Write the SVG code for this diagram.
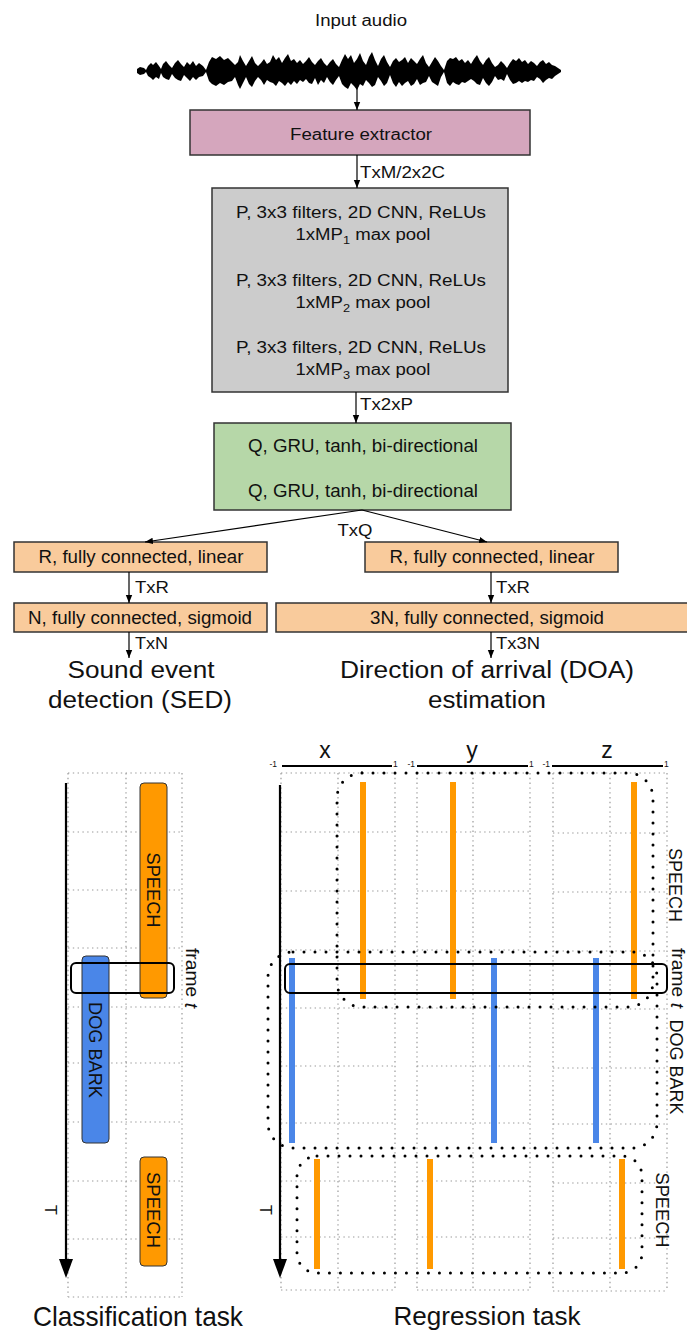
<svg xmlns="http://www.w3.org/2000/svg" width="687" height="1333" viewBox="0 0 687 1333">
  <defs>
    <marker id="arr" viewBox="0 0 10 10" refX="10" refY="5" markerWidth="8" markerHeight="8" markerUnits="userSpaceOnUse" orient="auto">
      <path d="M0,1 L10,5 L0,9 z" fill="#000"/>
    </marker>
    <style>
      text { font-family: "Liberation Sans", Arial, sans-serif; fill: #111; }
      .t16 { font-size: 16px; }
      .t17 { font-size: 17.5px; }
      .big { font-size: 23px; }
      .cap { font-size: 28px; }
      .box { stroke: #333; stroke-width: 1.5; }
      .conn { stroke: #000; stroke-width: 1.2; fill: none; marker-end: url(#arr); }
      .grid { stroke: #999; stroke-width: 1.2; stroke-dasharray: 1.4 3.4; fill: none; }
      .dots { stroke: #000; stroke-width: 3; stroke-dasharray: 0 11; stroke-linecap: round; fill: none; }
      .frame { stroke: #000; stroke-width: 2; fill: none; }
      .vlab { font-size: 19px; }
      .orange { stroke: #ff9900; stroke-width: 6; }
      .blue { stroke: #4a86e8; stroke-width: 6; }
      .axis { stroke: #000; stroke-width: 2.2; }
    </style>
  </defs>

  <!-- input waveform -->
  <g id="input">
    <text class="t16" x="361" y="26" text-anchor="middle" textLength="92" lengthAdjust="spacingAndGlyphs">Input audio</text>
    <path fill="#000" d="M137,69 L140,67 L144,68 L146,70 L148,66 L151,63 L153,65 L156,62 L159,66 L161,69 L163,64 L166,61 L169,65 L172,68 L175,63 L178,60 L181,64 L184,67 L187,62 L190,65 L193,61 L196,66 L199,63 L203,66 L206,70 L209,62 L212,57 L216,59 L220,56 L224,60 L228,58 L232,62 L235,65 L238,62 L240,55 L243,61 L246,66 L249,61 L252,56 L255,63 L258,66 L261,63 L264,59 L267,64 L270,62 L273,55 L276,60 L279,57 L282,63 L285,58 L288,54 L291,61 L294,59 L297,63 L300,60 L303,64 L306,61 L309,57 L312,62 L315,65 L318,61 L321,58 L324,63 L327,66 L330,62 L333,59 L336,64 L339,67 L342,60 L345,54 L348,59 L351,55 L354,63 L357,59 L360,53 L363,61 L366,65 L369,57 L372,52 L375,60 L378,66 L381,59 L384,55 L387,62 L390,67 L393,61 L396,58 L399,62 L402,60 L405,57 L408,63 L411,58 L414,61 L417,64 L420,59 L423,55 L426,63 L429,67 L432,62 L435,57 L438,61 L441,66 L444,70 L447,61 L450,58 L453,59 L456,57 L459,61 L462,59 L465,63 L468,60 L471,64 L474,59 L477,55 L480,61 L483,65 L486,60 L489,57 L492,63 L495,67 L498,65 L501,61 L504,64 L507,68 L510,63 L513,59 L516,61 L519,58 L522,62 L525,60 L528,64 L531,61 L534,63 L537,66 L540,62 L543,60 L546,64 L549,62 L552,65 L555,66 L558,68 L561,70 L561,72 L558,74 L555,76 L552,79 L549,78 L546,80 L543,83 L540,79 L537,77 L534,81 L531,80 L528,82 L525,81 L522,83 L519,81 L516,83 L513,84 L510,80 L507,74 L504,81 L501,79 L498,80 L495,76 L492,82 L489,86 L486,83 L483,78 L480,85 L477,84 L474,81 L471,79 L468,81 L465,83 L462,82 L459,85 L456,84 L453,82 L450,86 L447,83 L444,72 L441,77 L438,86 L435,84 L432,82 L429,76 L426,82 L423,83 L420,85 L417,79 L414,84 L411,86 L408,81 L405,83 L402,86 L399,82 L396,87 L393,83 L390,75 L387,83 L384,86 L381,81 L378,77 L375,85 L372,87 L369,83 L366,80 L363,86 L360,84 L357,90 L354,86 L351,83 L348,89 L345,87 L342,84 L339,76 L336,80 L333,85 L330,82 L327,77 L324,83 L321,80 L318,85 L315,78 L312,84 L309,83 L306,79 L303,82 L300,80 L297,84 L294,81 L291,85 L288,82 L285,86 L282,83 L279,81 L276,86 L273,83 L270,82 L267,80 L264,85 L261,80 L258,77 L255,81 L252,87 L249,84 L246,77 L243,83 L240,89 L238,85 L235,77 L232,81 L228,82 L224,85 L220,83 L216,86 L212,84 L209,81 L206,72 L203,76 L199,77 L196,80 L193,77 L190,81 L187,78 L184,75 L181,81 L178,80 L175,78 L172,74 L169,80 L166,79 L163,77 L161,73 L159,79 L156,77 L153,80 L151,78 L148,76 L146,72 L144,74 L140,75 L137,73 Z"/>
  </g>

  <g id="feature-extractor">
    <rect class="box" x="190" y="110" width="340" height="45" fill="#d5a6bd"/>
    <text class="t16" x="361" y="140" text-anchor="middle" textLength="142" lengthAdjust="spacingAndGlyphs">Feature extractor</text>
  </g>

  <g id="cnn">
    <rect class="box" x="212" y="188" width="296" height="204" fill="#cccccc"/>
    <text class="t16" x="361" y="218" text-anchor="middle" textLength="250" lengthAdjust="spacingAndGlyphs">P, 3x3 filters, 2D CNN, ReLUs</text>
    <text class="t16" x="363" y="240" text-anchor="middle" textLength="135" lengthAdjust="spacingAndGlyphs">1xMP<tspan font-size="11" dy="4">1</tspan><tspan dy="-4"> max pool</tspan></text>
    <text class="t16" x="361" y="286" text-anchor="middle" textLength="250" lengthAdjust="spacingAndGlyphs">P, 3x3 filters, 2D CNN, ReLUs</text>
    <text class="t16" x="363" y="308" text-anchor="middle" textLength="135" lengthAdjust="spacingAndGlyphs">1xMP<tspan font-size="11" dy="4">2</tspan><tspan dy="-4"> max pool</tspan></text>
    <text class="t16" x="361" y="353" text-anchor="middle" textLength="250" lengthAdjust="spacingAndGlyphs">P, 3x3 filters, 2D CNN, ReLUs</text>
    <text class="t16" x="363" y="375" text-anchor="middle" textLength="135" lengthAdjust="spacingAndGlyphs">1xMP<tspan font-size="11" dy="4">3</tspan><tspan dy="-4"> max pool</tspan></text>
  </g>

  <g id="gru">
    <rect class="box" x="214" y="423" width="297" height="87" fill="#b6d7a8"/>
    <text class="t17" x="363" y="452" text-anchor="middle" textLength="230" lengthAdjust="spacingAndGlyphs">Q, GRU, tanh, bi-directional</text>
    <text class="t17" x="363" y="497" text-anchor="middle" textLength="230" lengthAdjust="spacingAndGlyphs">Q, GRU, tanh, bi-directional</text>
  </g>

  <g id="sed-fc1">
    <rect class="box" x="14" y="542" width="253" height="30" fill="#f9cb9c"/>
    <text class="t17" x="141" y="563" text-anchor="middle" textLength="205" lengthAdjust="spacingAndGlyphs">R, fully connected, linear</text>
  </g>
  <g id="doa-fc1">
    <rect class="box" x="365" y="542" width="253" height="30" fill="#f9cb9c"/>
    <text class="t17" x="492" y="563" text-anchor="middle" textLength="205" lengthAdjust="spacingAndGlyphs">R, fully connected, linear</text>
  </g>
  <g id="sed-fc2">
    <rect class="box" x="14" y="603" width="253" height="29" fill="#f9cb9c"/>
    <text class="t17" x="140" y="624" text-anchor="middle" textLength="224" lengthAdjust="spacingAndGlyphs">N, fully connected, sigmoid</text>
  </g>
  <g id="doa-fc2">
    <rect class="box" x="276" y="603" width="430" height="29" fill="#f9cb9c"/>
    <text class="t17" x="487" y="624" text-anchor="middle" textLength="234" lengthAdjust="spacingAndGlyphs">3N, fully connected, sigmoid</text>
  </g>

  <g id="sed-output">
    <text class="big" x="141" y="678" text-anchor="middle" textLength="147" lengthAdjust="spacingAndGlyphs">Sound event</text>
    <text class="big" x="140" y="708" text-anchor="middle" textLength="184" lengthAdjust="spacingAndGlyphs">detection (SED)</text>
  </g>
  <g id="doa-output">
    <text class="big" x="487" y="678" text-anchor="middle" textLength="294" lengthAdjust="spacingAndGlyphs">Direction of arrival (DOA)</text>
    <text class="big" x="487" y="708" text-anchor="middle" textLength="118" lengthAdjust="spacingAndGlyphs">estimation</text>
  </g>

  <!-- connectors and tensor shapes -->
  <g id="connectors">
    <line class="conn" x1="357" y1="88" x2="357" y2="110"/>
    <line class="conn" x1="357" y1="155" x2="357" y2="188"/>
    <text class="t16" x="360" y="178" textLength="85" lengthAdjust="spacingAndGlyphs">TxM/2x2C</text>
    <line class="conn" x1="356" y1="392" x2="356" y2="423"/>
    <text class="t16" x="360" y="410" textLength="53" lengthAdjust="spacingAndGlyphs">Tx2xP</text>
    <line class="conn" x1="362" y1="510" x2="145" y2="542"/>
    <line class="conn" x1="362" y1="510" x2="487" y2="542"/>
    <text class="t16" x="355" y="536" text-anchor="middle" textLength="35" lengthAdjust="spacingAndGlyphs">TxQ</text>
    <line class="conn" x1="129" y1="572" x2="129" y2="603"/>
    <text class="t16" x="135" y="593" textLength="34" lengthAdjust="spacingAndGlyphs">TxR</text>
    <line class="conn" x1="491" y1="572" x2="491" y2="603"/>
    <text class="t16" x="496" y="593" textLength="34" lengthAdjust="spacingAndGlyphs">TxR</text>
    <line class="conn" x1="129" y1="632" x2="129" y2="658"/>
    <text class="t16" x="135" y="649" textLength="33" lengthAdjust="spacingAndGlyphs">TxN</text>
    <line class="conn" x1="491" y1="632" x2="491" y2="658"/>
    <text class="t16" x="496" y="649" textLength="44" lengthAdjust="spacingAndGlyphs">Tx3N</text>
  </g>

  <!-- classification task -->
  <g id="classification">
    <path class="grid" d="M68,773 V1297 M126,773 V1297 M182,773 V1297 M68,773 H182 M68,832 H182 M68,890 H182 M68,948 H182 M68,1007 H182 M68,1063 H182 M68,1122 H182 M68,1181 H182 M68,1239 H182 M68,1297 H182"/>
    <line class="axis" x1="66" y1="783" x2="66" y2="1262"/>
    <polygon points="59,1259 73,1259 66,1278" fill="#000"/>
    <text class="t16" transform="translate(50,1210) rotate(90)" text-anchor="middle" dominant-baseline="central">T</text>
    <rect x="140" y="783" width="27" height="215" rx="4" fill="#ff9900" stroke="#333" stroke-width="1"/>
    <text class="vlab" transform="translate(153.5,890) rotate(90)" text-anchor="middle" dominant-baseline="central" textLength="75" lengthAdjust="spacingAndGlyphs">SPEECH</text>
    <rect x="82" y="956" width="27" height="187" rx="4" fill="#4a86e8" stroke="#333" stroke-width="1"/>
    <text class="vlab" transform="translate(95.5,1050) rotate(90)" text-anchor="middle" dominant-baseline="central" textLength="96" lengthAdjust="spacingAndGlyphs">DOG BARK</text>
    <rect x="140" y="1157" width="27" height="109" rx="4" fill="#ff9900" stroke="#333" stroke-width="1"/>
    <text class="vlab" transform="translate(153.5,1210) rotate(90)" text-anchor="middle" dominant-baseline="central" textLength="76" lengthAdjust="spacingAndGlyphs">SPEECH</text>
    <rect class="frame" x="71" y="963" width="103" height="30" rx="5"/>
    <text class="vlab" transform="translate(192,978) rotate(90)" text-anchor="middle" dominant-baseline="central" textLength="60" lengthAdjust="spacingAndGlyphs">frame <tspan font-style="italic">t</tspan></text>
    <text class="cap" x="138" y="1326" text-anchor="middle" textLength="210" lengthAdjust="spacingAndGlyphs">Classification task</text>
  </g>

  <!-- regression task -->
  <g id="regression">
    <path class="grid" d="M281,773 V1290 M338,773 V1290 M395,773 V1290 M417,773 V1290 M473,773 V1290 M530,773 V1290 M553,773 V1290 M610,773 V1290 M667,773 V1290"/>
    <path class="grid" d="M281,773 H395 M281,832 H395 M281,891 H395 M281,950 H395 M281,1008 H395 M281,1066 H395 M281,1123 H395 M281,1181 H395 M281,1237 H395 M281,1290 H395 M417,773 H530 M417,832 H530 M417,891 H530 M417,950 H530 M417,1008 H530 M417,1066 H530 M417,1123 H530 M417,1181 H530 M417,1237 H530 M417,1290 H530 M553,773 H667 M553,833 H667 M553,892 H667 M553,951 H667 M553,1009 H667 M553,1068 H667 M553,1124 H667 M553,1183 H667 M553,1238 H667 M553,1291 H667"/>
    <!-- coordinate ranges -->
    <line class="axis" x1="282" y1="766" x2="392" y2="766"/>
    <line class="axis" x1="417" y1="766" x2="528" y2="766"/>
    <line class="axis" x1="552" y1="766" x2="663" y2="766"/>
    <g font-size="8.5">
      <text x="277" y="767" text-anchor="end">-1</text>
      <text x="393" y="767">1</text>
      <text x="415" y="767" text-anchor="end">-1</text>
      <text x="529" y="767">1</text>
      <text x="550" y="767" text-anchor="end">-1</text>
      <text x="664" y="767">1</text>
    </g>
    <text x="325" y="758" font-size="23" text-anchor="middle">x</text>
    <text x="472" y="758" font-size="23" text-anchor="middle">y</text>
    <text x="607" y="758" font-size="23" text-anchor="middle">z</text>
    <line class="axis" x1="280" y1="785" x2="280" y2="1262"/>
    <polygon points="273,1259 287,1259 280,1278" fill="#000"/>
    <text class="t16" transform="translate(265,1210) rotate(90)" text-anchor="middle" dominant-baseline="central">T</text>
    <!-- per-event coordinate tracks -->
    <line class="orange" x1="363" y1="782" x2="363" y2="999"/>
    <line class="orange" x1="453" y1="782" x2="453" y2="999"/>
    <line class="orange" x1="634" y1="782" x2="634" y2="999"/>
    <line class="blue" x1="292" y1="958" x2="292" y2="1143"/>
    <line class="blue" x1="494" y1="958" x2="494" y2="1143"/>
    <line class="blue" x1="596" y1="958" x2="596" y2="1143"/>
    <line class="orange" x1="317" y1="1159" x2="317" y2="1269"/>
    <line class="orange" x1="430" y1="1159" x2="430" y2="1269"/>
    <line class="orange" x1="622" y1="1159" x2="622" y2="1269"/>
    <!-- event groupings -->
    <rect class="dots" x="337" y="773" width="316" height="234" rx="25"/>
    <rect class="dots" x="268" y="952" width="389" height="196" rx="25"/>
    <rect class="dots" x="297" y="1156" width="345" height="117" rx="20"/>
    <rect class="frame" x="285" y="964" width="382" height="29" rx="5"/>
    <text class="vlab" transform="translate(675,885) rotate(90)" text-anchor="middle" dominant-baseline="central" textLength="74" lengthAdjust="spacingAndGlyphs">SPEECH</text>
    <text class="vlab" transform="translate(678,978) rotate(90)" text-anchor="middle" dominant-baseline="central" textLength="60" lengthAdjust="spacingAndGlyphs">frame <tspan font-style="italic">t</tspan></text>
    <text class="vlab" transform="translate(676,1067) rotate(90)" text-anchor="middle" dominant-baseline="central" textLength="95" lengthAdjust="spacingAndGlyphs">DOG BARK</text>
    <text class="vlab" transform="translate(662,1210) rotate(90)" text-anchor="middle" dominant-baseline="central" textLength="75" lengthAdjust="spacingAndGlyphs">SPEECH</text>
    <text x="487" y="1325" font-size="26" text-anchor="middle" textLength="187" lengthAdjust="spacingAndGlyphs">Regression task</text>
  </g>
</svg>
